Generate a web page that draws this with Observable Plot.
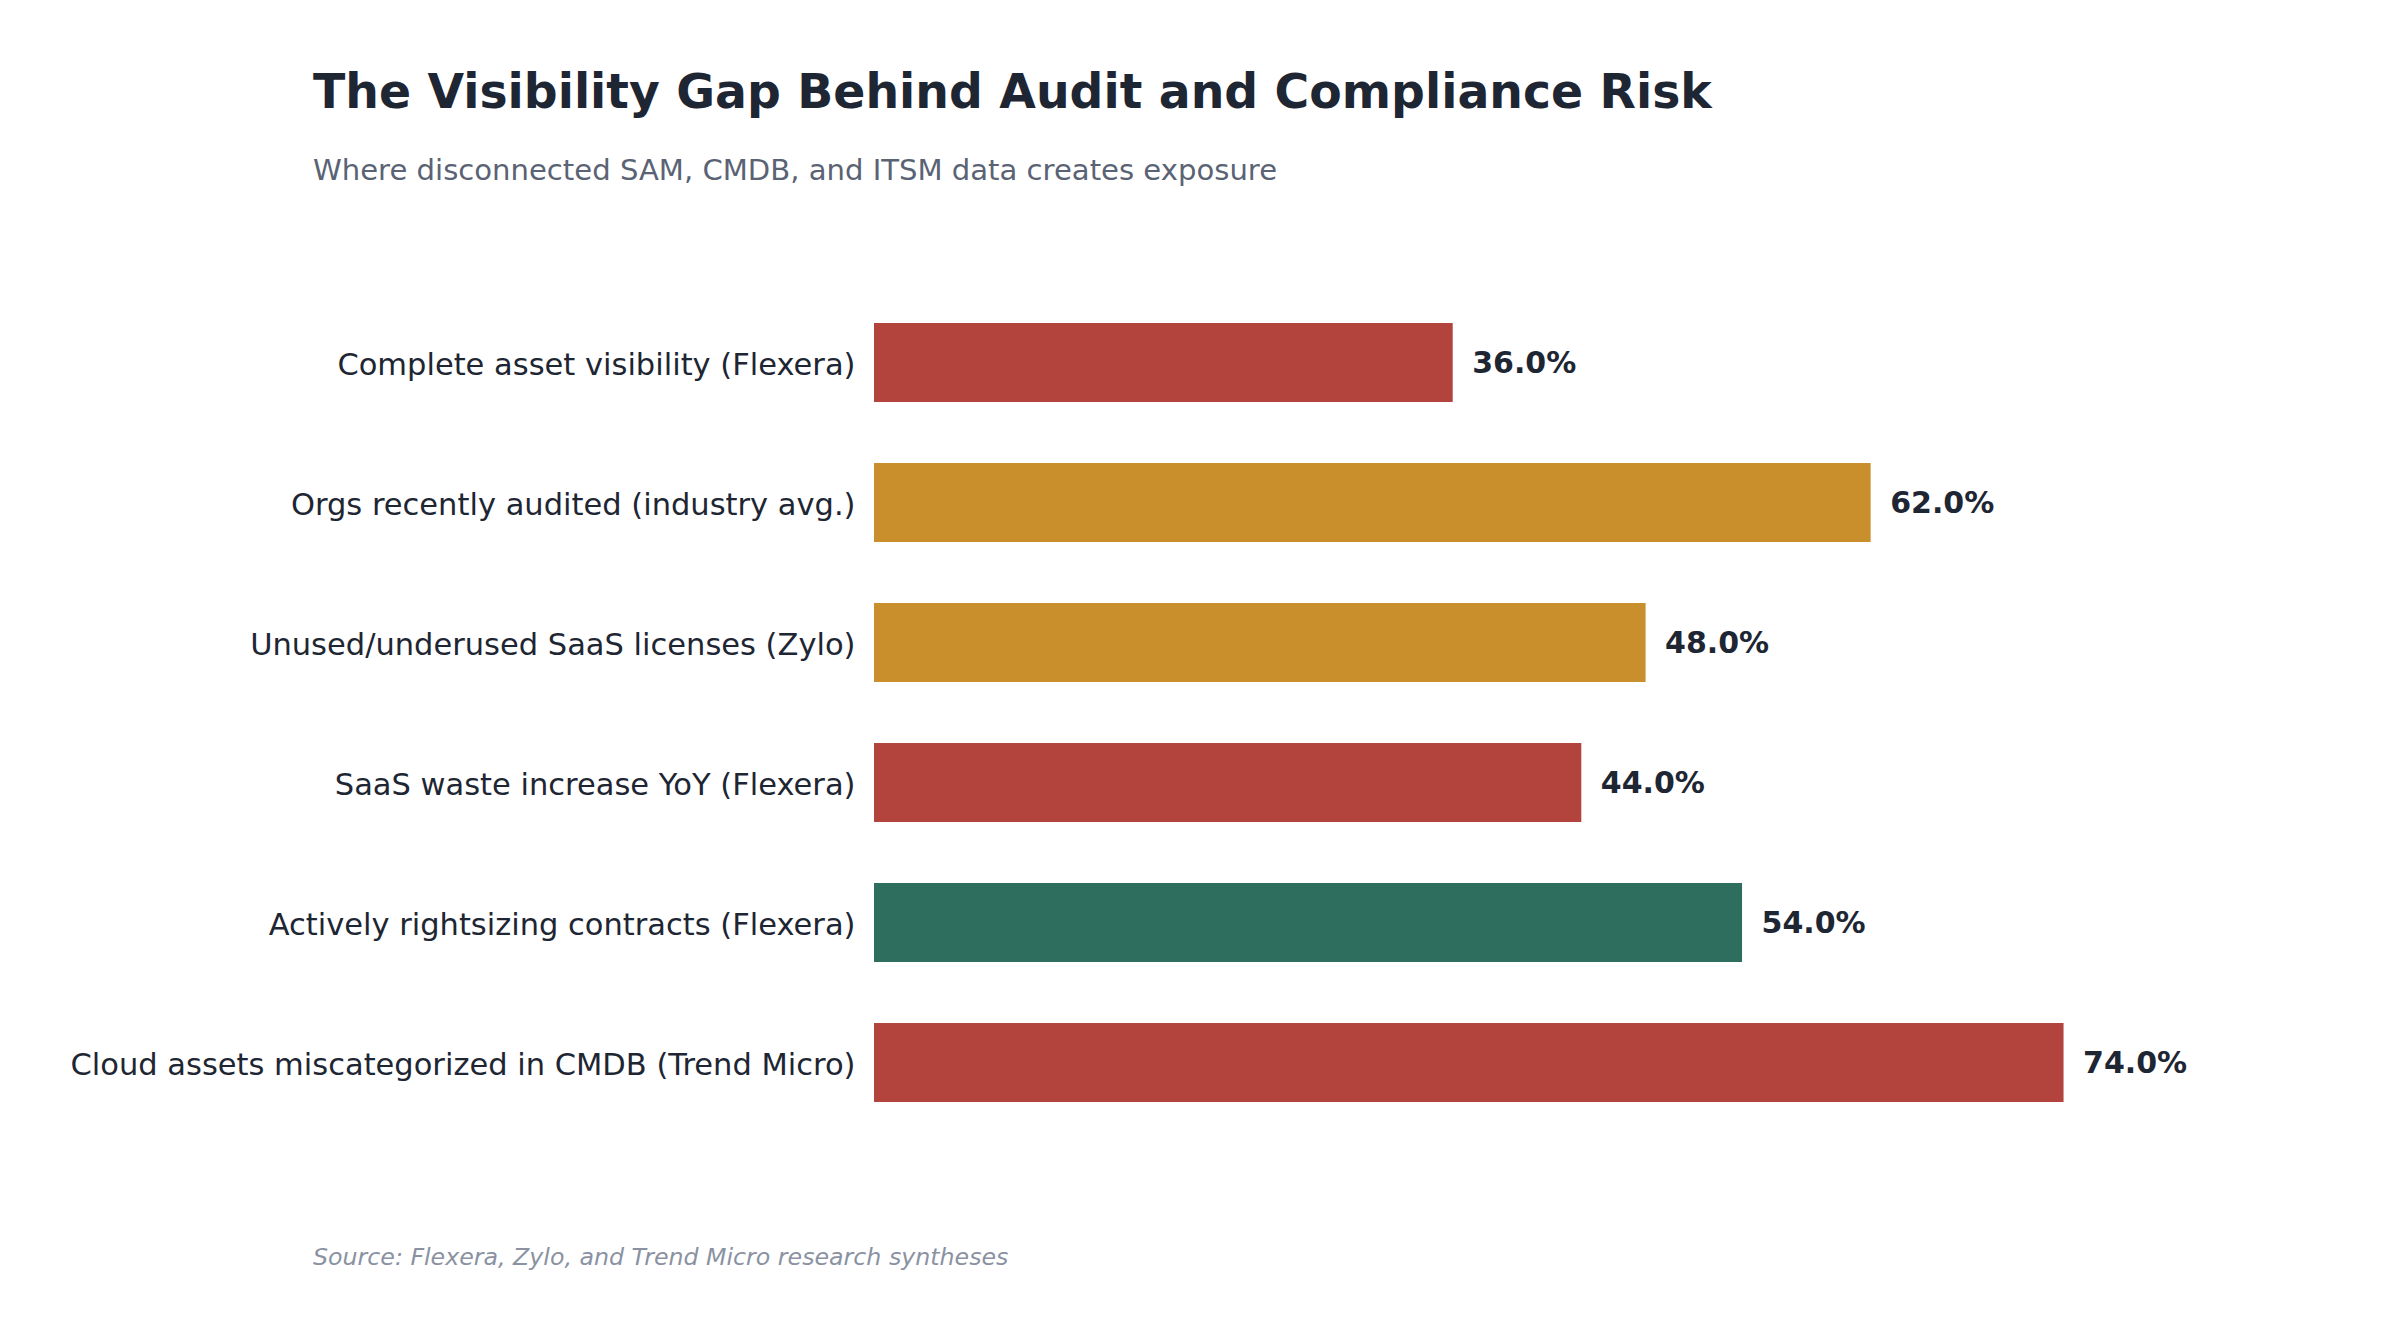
<!DOCTYPE html>
<html>
<head>
<meta charset="utf-8">
<script src="https://cdn.jsdelivr.net/npm/d3@7"></script>
<script src="https://cdn.jsdelivr.net/npm/@observablehq/plot@0.6"></script>
<style>
  html, body { margin: 0; padding: 0; background: #ffffff; }
  body { width: 2396px; height: 1339px; position: relative; overflow: hidden;
         font-family: "DejaVu Sans", sans-serif; }
  .title { position: absolute; left: 313px; top: 68px; font-size: 47.3px; line-height: 1;
           font-weight: bold; color: #1e2633; white-space: nowrap; }
  .subtitle { position: absolute; left: 313px; top: 156px; font-size: 29.1px; line-height: 1;
              color: #5a6374; white-space: nowrap; }
  .caption { position: absolute; left: 313px; top: 1246px; font-size: 23.7px; line-height: 1;
             font-style: italic; color: #8a92a2; white-space: nowrap; }
  #chart { position: absolute; left: 0; top: 240px; }
</style>
</head>
<body>
<div class="title">The Visibility Gap Behind Audit and Compliance Risk</div>
<div class="subtitle">Where disconnected SAM, CMDB, and ITSM data creates exposure</div>
<div id="chart"></div>
<div class="caption">Source: Flexera, Zylo, and Trend Micro research syntheses</div>
<script>
// Survey findings, listed top to bottom
const categories = [
  "Complete asset visibility (Flexera)",
  "Orgs recently audited (industry avg.)",
  "Unused/underused SaaS licenses (Zylo)",
  "SaaS waste increase YoY (Flexera)",
  "Actively rightsizing contracts (Flexera)",
  "Cloud assets miscategorized in CMDB (Trend Micro)"
];
const values = [36, 62, 48, 44, 54, 74];
const signals = ["gap", "exposure", "exposure", "gap", "action", "gap"];

const signalDomain = ["gap", "exposure", "action"];
const signalColors = ["#b3433d", "#c88f2c", "#2e6e5f"];

const rows = categories.map((c, i) => ({ category: c, value: values[i], signal: signals[i] }));

const chart = Plot.plot({
  width: 2396,
  height: 930,
  marginLeft: 874,
  marginRight: 236,
  marginTop: 21,
  marginBottom: 7,
  style: { fontFamily: "DejaVu Sans, sans-serif", color: "#1e2633", background: "transparent" },
  x: { domain: [0, 80], axis: null },
  y: { domain: categories, padding: 0.436, label: null },
  color: { domain: signalDomain, range: signalColors },
  marks: [
    Plot.barX(rows, { x: "value", y: "category", fill: "signal" }),
    Plot.text(rows, {
      x: "value", y: "category", text: d => d.value.toFixed(1) + "%",
      textAnchor: "start", dx: 19, fontSize: 30, fontWeight: "bold", fill: "#1e2633"
    }),
    Plot.axisY({ tickSize: 0, tickPadding: 19, dy: 2, fontSize: 30.5, label: null, fill: "#1e2633" })
  ]
});
document.getElementById("chart").appendChild(chart);
</script>
</body>
</html>
